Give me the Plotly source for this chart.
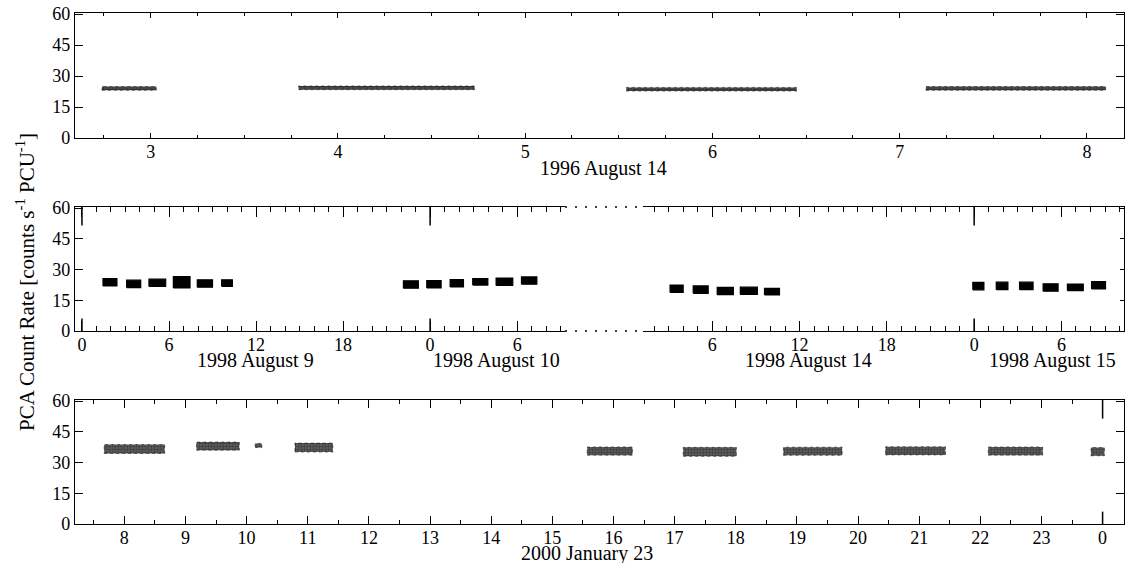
import plotly.graph_objects as go

# ---------------- data ----------------
# Panel 1: 1996 August 14, hours UT; each observation block: start, end, mean rate, half-spread
top_start = [2.74, 3.79, 5.54, 7.14]
top_end = [3.03, 4.73, 6.45, 8.10]
top_level = [24.0, 24.3, 23.6, 24.0]
top_spread = [0.9, 0.9, 0.9, 0.9]

# Panel 2a: 1998 August 9-10, hours since Aug 9 00:00 UT
mid_a_start = [1.45, 3.08, 4.62, 6.30, 7.95, 9.63, 22.16, 23.77, 25.38, 26.94, 28.55, 30.30]
mid_a_end = [2.41, 4.05, 5.77, 7.45, 9.00, 10.37, 23.19, 24.76, 26.30, 27.98, 29.70, 31.36]
mid_a_level = [23.8, 23.0, 23.5, 23.8, 23.2, 23.4, 22.7, 22.8, 23.3, 24.0, 24.0, 24.6]
mid_a_spread = [1.8, 1.8, 1.8, 2.8, 1.8, 1.6, 1.8, 1.8, 1.8, 1.6, 1.8, 1.8]

# Panel 2b: 1998 August 14-15, hours since Aug 14 00:00 UT
mid_b_start = [3.10, 4.69, 6.34, 7.93, 9.59, 23.91, 25.52, 27.12, 28.74, 30.41, 32.07]
mid_b_end = [4.00, 5.72, 7.45, 9.10, 10.62, 24.67, 26.32, 28.05, 29.77, 31.50, 33.03]
mid_b_level = [20.6, 20.2, 19.5, 19.6, 19.2, 21.9, 22.0, 22.0, 21.2, 21.3, 22.3]
mid_b_spread = [1.8, 1.8, 1.8, 1.8, 1.6, 1.8, 1.8, 1.8, 1.8, 1.6, 1.8]

# Panel 3: 2000 January 23, hours UT (24 = midnight)
bot_start = [7.67, 9.18, 10.14, 10.79, 15.57, 17.14, 18.78, 20.45, 22.13, 23.81]
bot_end = [8.66, 9.88, 10.25, 11.41, 16.31, 18.01, 19.74, 21.43, 23.02, 24.03]
bot_level = [36.6, 38.0, 38.3, 37.3, 35.6, 35.2, 35.5, 35.7, 35.6, 35.3]
bot_spread = [2.2, 2.0, 1.0, 2.2, 2.0, 2.2, 2.0, 2.0, 2.0, 2.0]

# tick labels
top_tickvals = [3, 4, 5, 6, 7, 8]
top_ticktext = ["3", "4", "5", "6", "7", "8"]
mid_a_tickvals = [0, 6, 12, 18, 24, 30]
mid_a_ticktext = ["0", "6", "12", "18", "0", "6"]
mid_b_tickvals = [6, 12, 18, 24, 30]
mid_b_ticktext = ["6", "12", "18", "0", "6"]
bot_tickvals = list(range(8, 25))
bot_ticktext = [str(h % 24) for h in bot_tickvals]
y_tickvals = [0, 15, 30, 45, 60]

mid_a_day_ticks = [0, 24]
mid_b_day_ticks = [24]
bot_day_ticks = [24]

panel_labels = ["1996 August 14", "1998 August 9", "1998 August 10",
                "1998 August 14", "1998 August 15", "2000 January 23"]
y_title = "PCA Count Rate [counts s<sup>-1</sup> PCU<sup>-1</sup>]"

# ---------------- figure ----------------
FONT = "Liberation Serif"
W, H = 1125, 563
L, R = 75, 1124


def band(starts, ends, levels, spreads):
    xs, ys = [], []
    for s, e, lv, d in zip(starts, ends, levels, spreads):
        xs += [s, e, e, s, s, None]
        ys += [lv - d, lv - d, lv + d, lv + d, lv - d, None]
    return xs, ys


fig = go.Figure()

x, y = band(top_start, top_end, top_level, top_spread)
fig.add_trace(go.Scatter(x=x, y=y, xaxis="x", yaxis="y", mode="lines", fill="toself",
                         fillcolor="rgba(0,0,0,0.7)",
                         fillpattern=dict(shape=".", size=3, solidity=0.8, fgcolor="black",
                                          bgcolor="rgba(0,0,0,0.55)"),
                         line=dict(width=0.6, color="rgba(0,0,0,0.8)", dash="dot"),
                         hoverinfo="skip", showlegend=False))
x, y = band(mid_a_start, mid_a_end, mid_a_level, mid_a_spread)
fig.add_trace(go.Scatter(x=x, y=y, xaxis="x2", yaxis="y2", mode="lines", fill="toself",
                         fillcolor="black", line=dict(width=1.2, color="black"),
                         hoverinfo="skip", showlegend=False))
x, y = band(mid_b_start, mid_b_end, mid_b_level, mid_b_spread)
fig.add_trace(go.Scatter(x=x, y=y, xaxis="x3", yaxis="y3", mode="lines", fill="toself",
                         fillcolor="black", line=dict(width=1.2, color="black"),
                         hoverinfo="skip", showlegend=False))
x, y = band(bot_start, bot_end, bot_level, bot_spread)
fig.add_trace(go.Scatter(x=x, y=y, xaxis="x4", yaxis="y4", mode="lines", fill="toself",
                         fillcolor="rgba(0,0,0,0.6)",
                         fillpattern=dict(shape=".", size=3, solidity=0.8, fgcolor="black",
                                          bgcolor="rgba(0,0,0,0.45)"),
                         line=dict(width=0.7, color="rgba(0,0,0,0.7)", dash="dot"),
                         hoverinfo="skip", showlegend=False))


def px_x(p):
    return (p - L) / (R - L)


def px_y(p):
    return 1 - p / H


tick_font = dict(family=FONT, size=18, color="black")

common_x = dict(showline=True, linecolor="black", linewidth=1.2, ticks="inside",
                tickcolor="black", tickfont=tick_font, showgrid=False, zeroline=False,
                mirror="ticks", tickmode="array", automargin=False, ticklabelstandoff=-3)
common_y = dict(showline=True, linecolor="black", linewidth=1.2, ticks="inside",
                tickcolor="black", tickfont=tick_font, showgrid=False, zeroline=False,
                range=[0, 60.5], tickvals=y_tickvals, ticklen=8, tickwidth=1.2,
                automargin=False)

mid_dom = [px_y(331), px_y(207)]
xa_split = px_x(565)
xb_split = px_x(643)

fig.update_layout(
    width=W, height=H,
    margin=dict(l=L, r=W - R, t=0, b=0, autoexpand=False),
    paper_bgcolor="white", plot_bgcolor="white",
    font=dict(family=FONT, color="black"),
    xaxis=dict(common_x, domain=[0, 1], anchor="y", range=[2.596, 8.198],
               tickvals=top_tickvals, ticktext=top_ticktext, ticklen=5,
               minor=dict(dtick=0.25, tick0=0, ticklen=3, ticks="inside", tickcolor="black")),
    yaxis=dict(common_y, domain=[px_y(138), px_y(13)], anchor="x", mirror="ticks"),
    xaxis2=dict(common_x, domain=[0, xa_split], anchor="y2", range=[-0.48, 33.3],
                tickvals=mid_a_tickvals, ticktext=mid_a_ticktext, ticklen=10,
                minor=dict(dtick=1, tick0=0, ticklen=5, ticks="inside", tickcolor="black")),
    yaxis2=dict(common_y, domain=mid_dom, anchor="x2", mirror=False),
    xaxis3=dict(common_x, domain=[xb_split, 1], anchor="y3", range=[1.24, 34.3],
                tickvals=mid_b_tickvals, ticktext=mid_b_ticktext, ticklen=10,
                minor=dict(dtick=1, tick0=0, ticklen=5, ticks="inside", tickcolor="black")),
    yaxis3=dict(common_y, domain=mid_dom, anchor="x3", side="right", showticklabels=False,
                ticklen=4, mirror=False),
    xaxis4=dict(common_x, domain=[0, 1], anchor="y4", range=[7.193, 24.35],
                tickvals=bot_tickvals, ticktext=bot_ticktext, ticklen=8,
                minor=dict(dtick=0.5, tick0=0, ticklen=4, ticks="inside", tickcolor="black")),
    yaxis4=dict(common_y, domain=[px_y(524), px_y(400)], anchor="x4", mirror="ticks"),
)

# long day-boundary ticks (top and bottom edges of the frame)
shapes = []
for xref, yref, vals in [("x2", "y2 domain", mid_a_day_ticks),
                         ("x3", "y3 domain", mid_b_day_ticks),
                         ("x4", "y4 domain", bot_day_ticks)]:
    for v in vals:
        shapes.append(dict(type="line", xref=xref, yref=yref, x0=v, x1=v, y0=1, y1=0.85,
                           line=dict(color="black", width=1.5)))
        shapes.append(dict(type="line", xref=xref, yref=yref, x0=v, x1=v, y0=0, y1=0.1,
                           line=dict(color="black", width=1.5)))
# dotted axis break in the middle panel
for yy in mid_dom:
    shapes.append(dict(type="line", xref="paper", yref="paper", x0=xa_split, x1=xb_split,
                       y0=yy, y1=yy, line=dict(color="black", width=1.5, dash="2px,8px")))
fig.update_layout(shapes=shapes)

# panel date labels
lab_font = dict(family=FONT, size=20, color="black")
label_pos = [(603, 168), (255, 360), (496, 360), (808, 360), (1052, 360), (587, 553)]
ann = []
for text, (px, py) in zip(panel_labels, label_pos):
    ann.append(dict(text=text, xref="paper", yref="paper", x=px_x(px), y=px_y(py),
                    xanchor="center", yanchor="middle", showarrow=False, font=lab_font))
ann.append(dict(text=y_title, xref="paper", yref="paper", x=px_x(25), y=px_y(282),
                xanchor="center", yanchor="middle", showarrow=False, textangle=-90,
                font=dict(family=FONT, size=21, color="black")))
fig.update_layout(annotations=ann)

fig.write_html("out.html", config={"displayModeBar": False},
               post_script="document.body.style.margin='0';document.body.style.overflow='hidden';")
